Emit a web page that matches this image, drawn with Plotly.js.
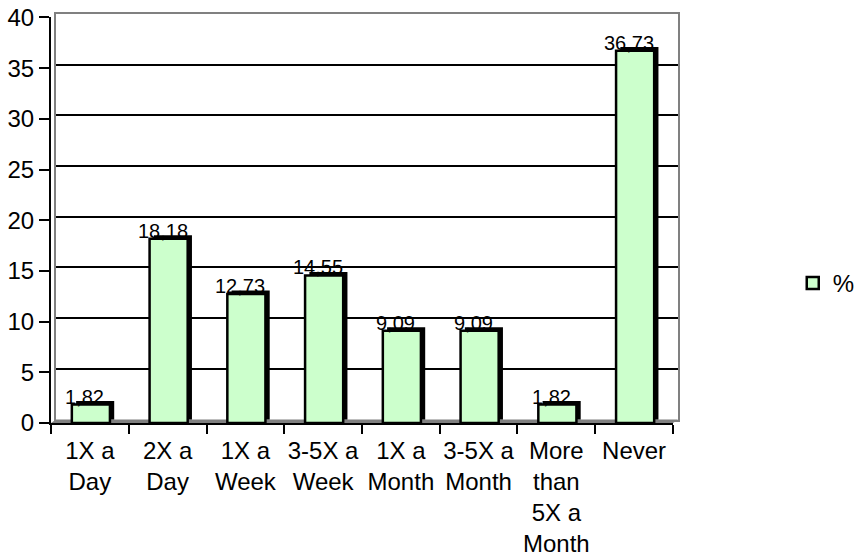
<!DOCTYPE html>
<html>
<head>
<meta charset="utf-8">
<script src="https://cdn.plot.ly/plotly-3.0.1.min.js"></script>
<style>
  html, body { margin: 0; padding: 0; background: #ffffff; }
  #chart { width: 856px; height: 557px; }
</style>
</head>
<body>
<div id="chart"></div>
<script>
// Frequency categories and their shares (%)
const categories = ['1X a Day', '2X a Day', '1X a Week', '3-5X a Week', '1X a Month', '3-5X a Month', 'More than 5X a Month', 'Never'];
const tickLabels = ['1X a<br>Day', '2X a<br>Day', '1X a<br>Week', '3-5X a<br>Week', '1X a<br>Month', '3-5X a<br>Month', 'More<br>than<br>5X a<br>Month', 'Never'];
const values = [1.82, 18.18, 12.73, 14.55, 9.09, 9.09, 1.82, 36.73];
const seriesName = '%';
const yTicks = [0, 5, 10, 15, 20, 25, 30, 35, 40];
const gridValues = [5, 10, 15, 20, 25, 30, 35];

const FONT = 'Liberation Sans, Arial, sans-serif';
const fmt = v => v.toFixed(2).replace('.', ',');

// Depth shading behind each column
const depth = {
  type: 'bar', x: categories, y: values, base: 0.35,
  xaxis: 'x2', yaxis: 'y2',
  width: 0.49, offset: -0.177,
  marker: { color: '#000000', line: { width: 0 } },
  showlegend: false, hoverinfo: 'skip'
};

// Front face of each column
const bars = {
  type: 'bar', x: categories, y: values, name: seriesName,
  xaxis: 'x2', yaxis: 'y2',
  width: 0.49, offset: -0.232,
  marker: { color: '#CCFFCC', line: { color: '#000000', width: 2.5 } }
};

// Empty trace keeping the back-wall subplot alive
const wall = { type: 'scatter', x: [], y: [], xaxis: 'x', yaxis: 'y', showlegend: false, hoverinfo: 'skip' };

const valueLabels = categories.map((c, i) => ({
  x: c, y: values[i], xref: 'x2', yref: 'y2',
  text: fmt(values[i]), showarrow: false,
  yanchor: 'bottom', xshift: -5, yshift: -5,
  font: { family: FONT, size: 20, color: '#000000' }
}));

const layout = {
  width: 856, height: 557,
  margin: { l: 51, r: 178, t: 14, b: 133.5, pad: 0, autoexpand: false },
  paper_bgcolor: '#ffffff', plot_bgcolor: 'rgba(0,0,0,0)',
  font: { family: FONT, size: 23, color: '#000000' },
  barmode: 'overlay',
  showlegend: true,
  legend: {
    x: 1.183, xanchor: 'left', y: 0.3414, yanchor: 'middle',
    font: { family: FONT, size: 24, color: '#000000' },
    bgcolor: 'rgba(0,0,0,0)', borderwidth: 0
  },
  // back wall: grey frame and gridlines, set slightly up and to the right
  xaxis: {
    domain: [0.008, 1], range: [0, 1], type: 'linear',
    showgrid: false, zeroline: false, showticklabels: false, ticks: '',
    showline: true, linecolor: '#808080', linewidth: 2, mirror: true,
    anchor: 'y', fixedrange: true
  },
  yaxis: {
    domain: [0.00855, 1], range: [0, 40],
    tickmode: 'array', tickvals: gridValues,
    showgrid: true, gridcolor: '#000000', gridwidth: 2,
    zeroline: false, showticklabels: false, ticks: '',
    showline: true, linecolor: '#808080', linewidth: 2, mirror: true,
    anchor: 'x', fixedrange: true
  },
  // front axes carrying the columns, ticks and labels
  xaxis2: {
    domain: [0, 0.992], anchor: 'y2', type: 'category',
    tickmode: 'array', tickvals: categories, ticktext: tickLabels,
    tickangle: 0, automargin: false, ticklabelstandoff: 5,
    tickson: 'boundaries', ticks: 'outside', ticklen: 9, tickwidth: 2, tickcolor: '#000000',
    showline: true, linecolor: '#000000', linewidth: 2,
    showgrid: false, zeroline: false, fixedrange: true,
    tickfont: { family: FONT, size: 24, color: '#000000' }
  },
  yaxis2: {
    domain: [0, 0.9915], anchor: 'x2', range: [0, 40],
    tickmode: 'array', tickvals: yTicks, automargin: false,
    ticks: 'outside', ticklen: 10, tickwidth: 2, tickcolor: '#000000',
    showline: true, linecolor: '#000000', linewidth: 2,
    showgrid: false, zeroline: false, fixedrange: true,
    tickfont: { family: FONT, size: 24, color: '#000000' }
  },
  shapes: [{
    // grey floor between the front axis and the back wall
    type: 'path', xref: 'paper', yref: 'paper', layer: 'below',
    path: 'M 0 0 L 0.992 0 L 1 0.00855 L 0.008 0.00855 Z',
    fillcolor: '#808080', line: { width: 0 }
  }],
  annotations: valueLabels
};

Plotly.newPlot('chart', [wall, depth, bars], layout, { displayModeBar: false, staticPlot: true });
</script>
</body>
</html>
